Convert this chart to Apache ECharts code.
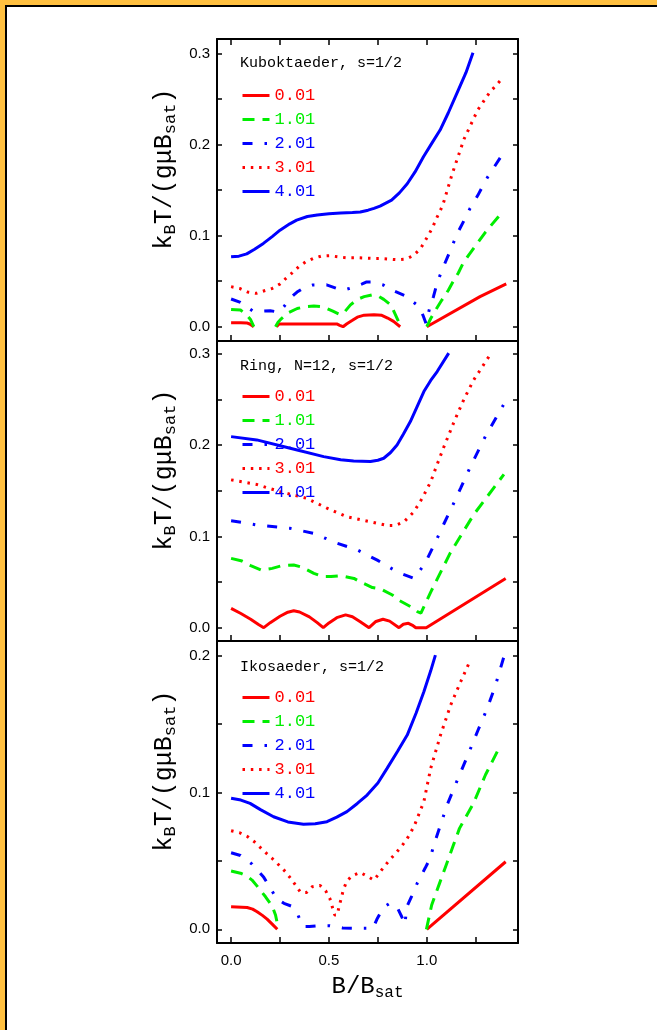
<!DOCTYPE html>
<html>
<head>
<meta charset="utf-8">
<script src="https://cdn.jsdelivr.net/npm/echarts@6/dist/echarts.min.js"></script>
<style>
html, body { margin: 0; padding: 0; background: #ffc040; overflow: hidden; }
#frame { position: absolute; left: 5px; top: 5px; width: 700px; height: 1100px; background: #fff;
  border-left: 2px solid #000; border-top: 2px solid #000; }
#main { position: absolute; left: 0; top: 0; width: 657px; height: 1030px; }
</style>
</head>
<body>
<div id="frame"></div>
<div id="main"></div>
<script>
// curve labels and panel titles
const curveNames = ['0.01', '1.01', '2.01', '3.01', '4.01'];
const panelTitles = ['Kuboktaeder, s=1/2', 'Ring, N=12, s=1/2', 'Ikosaeder, s=1/2'];

// tick positions
const xTicks = [0, 0.25, 0.5, 0.75, 1.0, 1.25];
const xLabels = [0, 0.5, 1.0];
const yTicksA = [0, 0.05, 0.1, 0.15, 0.2, 0.25, 0.3];
const yLabelsA = [0, 0.1, 0.2, 0.3];
const yTicksB = [0, 0.05, 0.1, 0.15, 0.2];
const yLabelsB = [0, 0.1, 0.2];

// Kuboktaeder  [B/Bsat, kT]
const kub0 = [[0,0.0044],[0.05,0.0044],[0.08,0.0042],[0.095,0.003],[0.105,0.0015],[0.116,0],[0.17,null],
  [0.232,0],[0.245,0.003],[0.26,0.0031],[0.4,0.0031],[0.54,0.0031],[0.555,0.0015],[0.572,0],[0.59,0.003],
  [0.62,0.007],[0.645,0.0105],[0.68,0.0127],[0.73,0.013],[0.77,0.0125],[0.8,0.0095],[0.83,0.0058],[0.864,0],
  [0.93,null],[1.0,0],[1.272,0.033],[1.406,0.047]];
const kub1 = [[0,0.019],[0.048,0.0183],[0.075,0.014],[0.099,0.008],[0.116,0],[0.17,null],[0.227,0],[0.24,0.005],
  [0.253,0.008],[0.29,0.015],[0.338,0.02],[0.38,0.022],[0.423,0.0227],[0.46,0.022],[0.49,0.02],[0.52,0.017],
  [0.555,0.0135],[0.575,0.015],[0.61,0.024],[0.645,0.03],[0.68,0.033],[0.72,0.035],[0.75,0.034],[0.78,0.03],
  [0.816,0.024],[0.84,0.0131],[0.855,0.006],[0.864,0],[0.93,null],[1.0,0],[1.02,0.009],[1.05,0.02],[1.076,0.029],
  [1.11,0.04],[1.133,0.049],[1.161,0.059],[1.185,0.0696],[1.214,0.0787],[1.248,0.0886],[1.3,0.104],[1.39,0.127]];
const kub2 = [[0,0.0304],[0.048,0.0267],[0.111,0.0172],[0.15,0.017],[0.2,0.0175],[0.245,0.016],[0.27,0.022],
  [0.3,0.031],[0.337,0.038],[0.372,0.0428],[0.415,0.0457],[0.488,0.046],[0.54,0.042],[0.573,0.04],[0.62,0.043],
  [0.67,0.047],[0.69,0.049],[0.72,0.049],[0.778,0.0458],[0.821,0.0403],[0.889,0.034],[0.957,0.0227],[0.98,0.0128],
  [0.996,0.0037],[1.017,0.0227],[1.034,0.033],[1.054,0.049],[1.085,0.0659],[1.128,0.0878],[1.156,0.1025],
  [1.196,0.119],[1.221,0.13],[1.26,0.144],[1.31,0.164],[1.375,0.1855]];
const kub3 = [[0,0.044],[0.044,0.042],[0.085,0.038],[0.128,0.0366],[0.17,0.0395],[0.21,0.042],[0.249,0.0468],
  [0.28,0.053],[0.312,0.059],[0.346,0.066],[0.38,0.071],[0.42,0.075],[0.461,0.0776],[0.505,0.078],[0.546,0.0768],
  [0.59,0.0757],[0.65,0.0757],[0.72,0.075],[0.761,0.075],[0.804,0.0743],[0.847,0.0736],[0.895,0.0743],
  [0.932,0.0783],[0.966,0.0853],[0.987,0.0926],[1.009,0.101],[1.03,0.109],[1.047,0.118],[1.066,0.126],
  [1.083,0.1345],[1.13,0.168],[1.19,0.206],[1.26,0.238],[1.32,0.257],[1.386,0.2727]];
const kub4 = [[0,0.0768],[0.04,0.0775],[0.08,0.08],[0.12,0.085],[0.165,0.0915],[0.21,0.099],[0.25,0.106],
  [0.3,0.113],[0.335,0.117],[0.39,0.121],[0.44,0.1226],[0.5,0.124],[0.56,0.125],[0.62,0.1255],[0.66,0.126],
  [0.7,0.128],[0.73,0.13],[0.761,0.1325],[0.82,0.139],[0.86,0.147],[0.9,0.157],[0.94,0.17],[0.983,0.1866],
  [1.03,0.203],[1.068,0.216],[1.11,0.235],[1.153,0.256],[1.2,0.279],[1.236,0.3008]];

// Ring N=12
const ring0 = [[0,0.0212],[0.05,0.0155],[0.1,0.0093],[0.14,0.0035],[0.167,0],[0.2,0.0055],[0.25,0.0125],
  [0.29,0.017],[0.32,0.0185],[0.35,0.0172],[0.4,0.0118],[0.44,0.0055],[0.471,0],[0.5,0.0052],[0.54,0.011],
  [0.585,0.014],[0.62,0.012],[0.66,0.0065],[0.705,0],[0.74,0.0068],[0.776,0.0092],[0.81,0.0072],[0.858,0],
  [0.88,0.0038],[0.906,0.0048],[0.93,0.0022],[0.944,0],[0.997,0],[1.403,0.054]];
const ring1 = [[0,0.076],[0.056,0.073],[0.1,0.068],[0.155,0.063],[0.21,0.065],[0.26,0.068],[0.32,0.0687],
  [0.36,0.0665],[0.423,0.0596],[0.47,0.056],[0.51,0.056],[0.56,0.057],[0.628,0.054],[0.662,0.05],[0.722,0.044],
  [0.765,0.0424],[0.824,0.0358],[0.858,0.03],[0.918,0.023],[0.952,0.0176],[0.97,0.016],[1.02,0.039],
  [1.12,0.082],[1.24,0.124],[1.394,0.168]];
const ring2 = [[0,0.1173],[0.13,0.1126],[0.3,0.109],[0.42,0.1035],[0.543,0.0925],[0.645,0.0852],[0.747,0.074],
  [0.85,0.061],[0.935,0.054],[0.99,0.07],[1.04,0.092],[1.09,0.115],[1.13,0.133],[1.173,0.153],[1.224,0.177],
  [1.3,0.21],[1.394,0.245]];
const ring3 = [[0,0.162],[0.131,0.157],[0.25,0.149],[0.385,0.1419],[0.49,0.131],[0.59,0.1217],[0.712,0.116],
  [0.797,0.112],[0.84,0.112],[0.883,0.116],[0.934,0.127],[0.977,0.142],[1.02,0.16],[1.053,0.179],[1.087,0.198],
  [1.138,0.225],[1.19,0.2505],[1.24,0.2716],[1.317,0.297]];
const ring4 = [[0,0.2094],[0.131,0.2058],[0.302,0.1967],[0.473,0.1875],[0.56,0.184],[0.626,0.1828],[0.712,0.1821],
  [0.75,0.1835],[0.78,0.1857],[0.815,0.192],[0.848,0.2003],[0.88,0.212],[0.916,0.2259],[0.95,0.242],
  [0.985,0.2588],[1.02,0.271],[1.053,0.2807],[1.112,0.3009]];

// Ikosaeder
const iko0 = [[0,0.0165],[0.082,0.016],[0.11,0.0148],[0.133,0.0129],[0.16,0.0102],[0.184,0.0075],[0.21,0.0038],
  [0.236,0],[0.6,null],[1.0,0],[1.403,0.0494]];
const iko1 = [[0,0.0426],[0.048,0.041],[0.08,0.039],[0.107,0.036],[0.133,0.0316],[0.155,0.0275],[0.176,0.0238],
  [0.2,0.019],[0.215,0.015],[0.227,0.0105],[0.235,0.005],[0.24,0],[0.6,null],[0.998,0],[1.025,0.0178],
  [1.065,0.0336],[1.102,0.0482],[1.136,0.0616],[1.167,0.0738],[1.238,0.092],[1.3,0.113],[1.377,0.1347]];
const iko2 = [[0,0.056],[0.048,0.054],[0.107,0.0477],[0.167,0.038],[0.193,0.032],[0.232,0.0226],[0.27,0.019],
  [0.307,0.017],[0.338,0.0117],[0.355,0.006],[0.369,0.002],[0.4,0.002],[0.454,0.0027],[0.505,0.0027],
  [0.57,0.001],[0.66,0.0007],[0.71,0.0007],[0.725,0.0007],[0.745,0.0073],[0.778,0.016],[0.81,0.019],
  [0.847,0.0165],[0.872,0.0092],[0.888,0.0035],[0.898,0.0165],[0.923,0.0243],[0.952,0.034],[0.991,0.0446],
  [1.017,0.0519],[1.037,0.0621],[1.064,0.0738],[1.105,0.0914],[1.15,0.107],[1.2,0.124],[1.26,0.145],
  [1.31,0.162],[1.35,0.178],[1.394,0.1993]];
const iko3 = [[0,0.0721],[0.044,0.0706],[0.085,0.0677],[0.119,0.064],[0.15,0.0597],[0.181,0.0555],[0.21,0.0518],
  [0.244,0.047],[0.278,0.0421],[0.304,0.0373],[0.329,0.0324],[0.355,0.027],[0.386,0.027],[0.415,0.0312],
  [0.454,0.0321],[0.483,0.0282],[0.505,0.0224],[0.517,0.0165],[0.529,0.0105],[0.543,0.0105],[0.551,0.0165],
  [0.563,0.0226],[0.573,0.0287],[0.59,0.0348],[0.616,0.039],[0.659,0.0416],[0.693,0.039],[0.73,0.036],
  [0.757,0.041],[0.783,0.046],[0.812,0.051],[0.841,0.0556],[0.87,0.0605],[0.896,0.0654],[0.918,0.0708],
  [0.938,0.0764],[0.955,0.0825],[0.985,0.0934],[1.02,0.1177],[1.07,0.142],[1.122,0.164],[1.173,0.181],
  [1.215,0.1944]];
const iko4 = [[0,0.0958],[0.05,0.0945],[0.097,0.0921],[0.15,0.0875],[0.217,0.0823],[0.29,0.0785],[0.37,0.0768],
  [0.43,0.0772],[0.49,0.0787],[0.54,0.082],[0.592,0.086],[0.645,0.092],[0.695,0.0982],[0.75,0.107],
  [0.797,0.1177],[0.85,0.13],[0.9,0.142],[0.945,0.158],[0.985,0.1737],[1.02,0.189],[1.044,0.2005]];

const panelData = [
  [kub0, kub1, kub2, kub3, kub4],
  [ring0, ring1, ring2, ring3, ring4],
  [iko0, iko1, iko2, iko3, iko4]
];

var colors = ['#ff0000', '#00ee00', '#0000ff', '#ff0000', '#0000ff'];
var dashes = ['solid', [12, 8], [10, 12, 2.5, 12], [2.5, 5.8], 'solid'];

var grids = [
  { left: 217, top: 39, width: 301, height: 302 },
  { left: 217, top: 341, width: 301, height: 300 },
  { left: 217, top: 641, width: 301, height: 302 }
];
var yRanges = [[-0.0157, 0.316], [-0.0146, 0.3142], [-0.0100, 0.2108]];
var yTicks = [yTicksA, yTicksA, yTicksB];
var yLabs = [yLabelsA, yLabelsA, yLabelsB];
var titleTops = [56, 359, 660];
var legendTops = [87, 388, 689];

var tickFont = 'Liberation Sans';
var monoFont = 'Liberation Mono';
var axisLineStyle = { color: '#000', width: 2 };
var tickStyle = { color: '#000', width: 1.5 };

var xAxes = [], yAxes = [], series = [], titles = [], legends = [];

for (let p = 0; p < 3; p++) {
  xAxes.push({
    type: 'value', gridIndex: p, min: -0.072, max: 1.466, position: 'bottom',
    splitLine: { show: false },
    axisLine: { onZero: false, lineStyle: axisLineStyle },
    axisTick: { inside: true, length: 6, lineStyle: tickStyle, customValues: xTicks },
    axisLabel: { show: p === 2, customValues: xLabels, margin: 10, fontFamily: tickFont, fontSize: 15, color: '#000',
      formatter: function (v) { return v.toFixed(1); } },
    name: p === 2 ? 'B/B{s|sat}' : '', nameLocation: 'middle', nameGap: 30,
    nameTextStyle: { fontFamily: monoFont, fontSize: 24, color: '#000',
      rich: { s: { fontFamily: monoFont, fontSize: 16, color: '#000', padding: [12, 0, 0, 0] } } }
  });
  yAxes.push({
    type: 'value', gridIndex: p, min: yRanges[p][0], max: yRanges[p][1], position: 'left',
    splitLine: { show: false },
    axisLine: { show: true, onZero: false, lineStyle: axisLineStyle },
    axisTick: { show: true, inside: true, length: 5, lineStyle: tickStyle, customValues: yTicks[p] },
    axisLabel: { customValues: yLabs[p], margin: 7, fontFamily: tickFont, fontSize: 15, color: '#000',
      formatter: function (v) { return v.toFixed(1); } },
    name: 'k{b|B}T/(gμB{b|sat})', nameLocation: 'middle', nameGap: 38,
    nameTextStyle: { fontFamily: monoFont, fontSize: 25, color: '#000', padding: [0, 0, 0, 42],
      rich: { b: { fontFamily: monoFont, fontSize: 17, color: '#000', padding: [12, 0, 0, 0] } } }
  });
  yAxes.push({
    type: 'value', gridIndex: p, min: yRanges[p][0], max: yRanges[p][1], position: 'right',
    splitLine: { show: false },
    axisLine: { show: true, onZero: false, lineStyle: axisLineStyle },
    axisTick: { show: true, inside: true, length: 5, lineStyle: tickStyle, customValues: yTicks[p] },
    axisLabel: { show: false }
  });

  for (let i = 0; i < 5; i++) {
    series.push({
      type: 'line', name: curveNames[i], xAxisIndex: p, yAxisIndex: p * 2,
      data: panelData[p][i], showSymbol: false, symbol: 'none', connectNulls: false,
      lineStyle: { color: colors[i], width: 3, type: dashes[i] },
      itemStyle: { color: colors[i] },
      z: 3
    });
  }

  titles.push({
    text: panelTitles[p], left: 240, top: titleTops[p], padding: 0,
    textStyle: { fontFamily: monoFont, fontSize: 15, fontWeight: 'normal', color: '#000' }
  });
  legends.push({
    orient: 'vertical', left: 241, top: legendTops[p], padding: 0,
    itemWidth: 27, itemHeight: 17, itemGap: 7, selectedMode: false,
    itemStyle: { opacity: 0 },
    lineStyle: { width: 3 },
    data: curveNames.map(function (n, i) { return { name: n, textStyle: { color: colors[i] } }; }),
    textStyle: { fontFamily: monoFont, fontSize: 17 }
  });
}

// top axis of the first panel (ticks only)
xAxes.push({
  type: 'value', gridIndex: 0, min: -0.072, max: 1.466, position: 'top',
  splitLine: { show: false },
  axisLine: { onZero: false, lineStyle: axisLineStyle },
  axisTick: { inside: true, length: 6, lineStyle: tickStyle, customValues: xTicks },
  axisLabel: { show: false }
});

var myChart = echarts.init(document.getElementById('main'));
myChart.setOption({
  animation: false,
  title: titles,
  legend: legends,
  grid: grids,
  xAxis: xAxes,
  yAxis: yAxes,
  series: series
});
</script>
</body>
</html>
